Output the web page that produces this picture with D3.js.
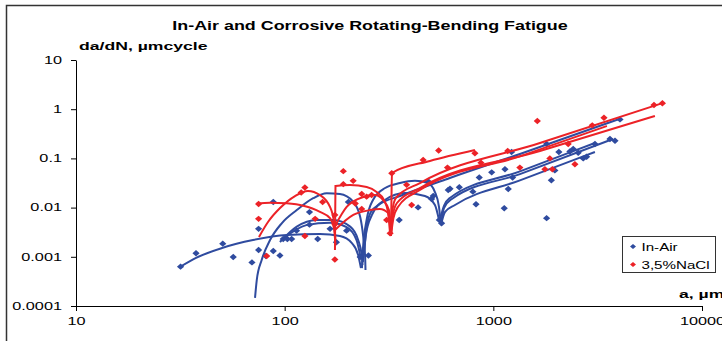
<!DOCTYPE html>
<html>
<head>
<meta charset="utf-8">
<script src="https://cdn.jsdelivr.net/npm/d3@7"></script>
<style>
  body { margin: 0; background: #fff; }
  text { font-family: "Liberation Sans", Arial, sans-serif; }
</style>
</head>
<body>
<svg id="chart" width="722" height="341"></svg>
<script>
// ticks
const xTicks = [10, 100, 1000, 10000];
const yTicks = [0.0001, 0.001, 0.01, 0.1, 1, 10];

// measured points [a (µm), da/dN]
const inAirPoints = [
  [31.7, 0.00063], [37.6, 0.00118], [50.5, 0.00185], [56.7, 0.00099], [69.7, 0.00077],
  [75, 0.00137], [75, 0.0037], [81.3, 0.00104], [88.2, 0.013], [88.2, 0.00131],
  [94.9, 0.00106], [98.4, 0.0023], [103, 0.0023], [108, 0.0023], [114, 0.0034],
  [131.5, 0.0045], [131.5, 0.0081], [144, 0.0023], [165, 0.0037], [177, 0.00197],
  [198, 0.0034], [202, 0.013], [230, 0.00099], [252, 0.00106],
  [354, 0.0056], [436, 0.0101], [488, 0.034], [506, 0.015], [515, 0.0172],
  [551, 0.0056], [565, 0.0048], [608, 0.0228], [620, 0.0242], [687, 0.026],
  [798, 0.0211], [826, 0.0117], [856, 0.041], [982, 0.052], [1128, 0.0097],
  [1137, 0.06], [1179, 0.0239], [1223, 0.135], [1237, 0.041], [1800, 0.196],
  [1800, 0.0061], [1897, 0.036], [1972, 0.057], [2061, 0.135], [2328, 0.138],
  [2414, 0.155], [2551, 0.13], [2697, 0.1], [2800, 0.108], [3069, 0.196],
  [3622, 0.248], [3829, 0.229], [4046, 0.62]
];

const naclPoints = [
  [75, 0.0118], [75, 0.0059], [82, 0.00104], [120, 0.0203], [125, 0.0256],
  [125, 0.00265], [140, 0.0059], [152, 0.013], [174, 0.00088], [174, 0.0046],
  [174, 0.0071], [191, 0.055], [191, 0.03], [213, 0.035], [218, 0.0121],
  [234, 0.0189], [247, 0.0167], [261, 0.018], [234, 0.0094],
  [308, 0.0056], [320, 0.003], [326, 0.05], [384, 0.029], [406, 0.0113],
  [461, 0.093], [547, 0.145], [603, 0.065], [816, 0.127], [872, 0.082],
  [1172, 0.141], [1340, 0.065], [1625, 0.575], [1767, 0.06], [1918, 0.06],
  [1866, 0.1], [2285, 0.196], [2460, 0.076], [2979, 0.47], [3390, 0.67],
  [5888, 1.22], [6460, 1.32]
];

// fitted curves, one per specimen
const inAirCurves = [
  [[31.7, 0.00063], [37.6, 0.00095], [50.1, 0.00151], [70.5, 0.00219], [102.6, 0.00277],
   [147.5, 0.0029], [184, 0.00265], [210, 0.0019], [225, 0.00109], [232, 0.00059]],
  [[72.1, 0.000146], [73.5, 0.000337], [77.6, 0.00086], [85.1, 0.00219], [96.8, 0.0048],
   [114.3, 0.0089], [137, 0.0155], [159, 0.0195], [184, 0.0189], [213, 0.0132],
   [230, 0.0065], [238, 0.00256], [243, 0.001], [244, 0.00054]],
  [[94.9, 0.002], [114.3, 0.0041], [142, 0.0056], [171, 0.0056], [206, 0.0041],
   [225, 0.00219], [234, 0.00109], [236, 0.00068]],
  [[98.2, 0.0023], [127, 0.0044], [165, 0.0049], [198, 0.004], [221, 0.00219], [231, 0.00099]],
  [[234.6, 0.00059], [237, 0.00137], [247, 0.0056], [265, 0.0143], [303, 0.025],
   [357, 0.0316], [421, 0.035], [486, 0.0316], [525, 0.0207], [549, 0.0103], [561, 0.0044]],
  [[237, 0.00078], [245, 0.0028], [262, 0.0071], [302, 0.0143], [377, 0.0198],
   [470, 0.0172], [525, 0.0113], [549, 0.0056]],
  [[240, 0.00109], [246.6, 0.0038], [259, 0.0081], [286, 0.0118], [357, 0.0172],
   [619, 0.04], [1341, 0.123], [4043, 0.64]],
  [[561, 0.0044], [580, 0.0098], [633, 0.015], [1341, 0.048], [3742, 0.248]],
  [[561, 0.0044], [586, 0.0081], [655, 0.0113], [1341, 0.0357], [3068, 0.135]],
  [[555, 0.0056], [580, 0.0108], [619, 0.0157], [1341, 0.0544], [3068, 0.206]]
];

const naclCurves = [
  [[73.5, 0.0122], [85.1, 0.0126], [102.2, 0.0122], [122.8, 0.0109], [147.6, 0.0082],
   [164.9, 0.0061], [172.3, 0.0038], [175.2, 0.00174]],
  [[75.3, 0.00253], [83.2, 0.0051], [95, 0.0098], [112.1, 0.0172], [129.3, 0.0218],
   [147.6, 0.018], [164.9, 0.0103], [172.3, 0.0051], [175.2, 0.00219]],
  [[174.2, 0.00137], [174.6, 0.0056], [175.2, 0.0275], [205.6, 0.0288], [247.2, 0.0262],
   [275.9, 0.0207], [299.1, 0.0143], [312.6, 0.0081], [319.5, 0.0032]],
  [[174.2, 0.0042], [198.2, 0.0103], [238.1, 0.0164], [270.8, 0.018], [295.8, 0.0143],
   [316, 0.0089], [323, 0.0038]],
  [[174.2, 0.0035], [213.2, 0.0071], [256.3, 0.0089], [286.1, 0.0094], [312.6, 0.0078],
   [323, 0.0032]],
  [[323, 0.0028], [324.9, 0.0143], [326.7, 0.0505], [496.8, 0.0886], [816.2, 0.148]],
  [[323, 0.00265], [328.5, 0.0089], [341.4, 0.0157], [444.9, 0.0316], [1672, 0.2056], [6494, 1.34]],
  [[323, 0.00265], [330.3, 0.0071], [345.2, 0.0124], [444.9, 0.025], [1672, 0.141], [5947, 0.728]],
  [[323, 0.00265], [332.1, 0.0061], [349, 0.0103], [444.9, 0.0228], [1341, 0.11], [3502, 0.455]]
];

const series = [
  { name: 'In-Air', color: '#2f4b9f', points: inAirPoints, curves: inAirCurves },
  { name: '3,5%NaCl', color: '#ec2227', points: naclPoints, curves: naclCurves }
];

// the picture is stretched sideways, so is the text
function stretch(sel, k) {
  sel.each(function () {
    const w = this.getComputedTextLength();
    d3.select(this).attr('textLength', w * k).attr('lengthAdjust', 'spacingAndGlyphs');
  });
}

const svg = d3.select('#chart');

// outer frame
svg.append('rect')
  .attr('x', 6.5).attr('y', 5.5)
  .attr('width', 800).attr('height', 400)
  .attr('fill', '#fff').attr('stroke', '#333').attr('stroke-width', 1.5);

const x = d3.scaleLog().domain([10, 10000]).range([76, 702]);
const y = d3.scaleLog().domain([0.0001, 10]).range([306, 60]);

svg.append('text')
  .attr('x', 370).attr('y', 30)
  .attr('text-anchor', 'middle')
  .attr('font-size', 12).attr('font-weight', 'bold')
  .text('In-Air and Corrosive Rotating-Bending Fatigue')
  .call(stretch, 1.49);

svg.append('text')
  .attr('x', 79).attr('y', 50)
  .attr('font-size', 11).attr('font-weight', 'bold')
  .text('da/dN, µmcycle')
  .call(stretch, 1.6);

svg.append('text')
  .attr('x', 679).attr('y', 298)
  .attr('font-size', 11).attr('font-weight', 'bold')
  .text('a, µm')
  .call(stretch, 1.6);

// axes
const xAxis = svg.append('g')
  .attr('transform', `translate(0,${y(0.0001)})`)
  .call(d3.axisBottom(x).tickValues(xTicks).tickFormat(d => String(d))
    .tickSize(5).tickSizeOuter(0).tickPadding(7));

const yAxis = svg.append('g')
  .attr('transform', `translate(${x(10)},0)`)
  .call(d3.axisLeft(y).tickValues(yTicks).tickFormat(d => String(d))
    .tickSize(5).tickSizeOuter(0).tickPadding(9));

[xAxis, yAxis].forEach(g => {
  g.select('.domain').attr('stroke', '#000');
  g.selectAll('.tick line').attr('stroke', '#000');
  g.selectAll('.tick text')
    .attr('font-family', '"Liberation Sans", Arial, sans-serif')
    .attr('font-size', 10.5).attr('fill', '#000')
    .call(stretch, 1.55);
});

const line = d3.line()
  .x(d => x(d[0]))
  .y(d => y(d[1]))
  .curve(d3.curveMonotoneX);

const diamond = 'M0,-3.2L3.6,0L0,3.2L-3.6,0Z';

series.forEach(s => {
  svg.append('g').selectAll('path')
    .data(s.curves)
    .enter()
    .append('path')
    .attr('d', line)
    .attr('fill', 'none')
    .attr('stroke', s.color)
    .attr('stroke-width', 2);

  svg.append('g').selectAll('path')
    .data(s.points)
    .enter()
    .append('path')
    .attr('d', diamond)
    .attr('transform', d => `translate(${x(d[0])},${y(d[1])})`)
    .attr('fill', s.color);
});

// legend
const legend = svg.append('g').attr('transform', 'translate(622.5,236.5)');
legend.append('rect')
  .attr('width', 93).attr('height', 36)
  .attr('fill', '#fff').attr('stroke', '#333').attr('stroke-width', 1);

const item = legend.selectAll('g.item')
  .data(series)
  .enter()
  .append('g')
  .attr('class', 'item')
  .attr('transform', (d, i) => `translate(0,${10 + i * 18})`);

item.append('path')
  .attr('d', 'M0,-2.6L3,0L0,2.6L-3,0Z')
  .attr('transform', 'translate(10.5,0)')
  .attr('fill', d => d.color);

item.append('text')
  .attr('x', 19).attr('y', 4)
  .attr('font-size', 10.5)
  .text(d => d.name)
  .call(stretch, 1.44);
</script>
</body>
</html>
